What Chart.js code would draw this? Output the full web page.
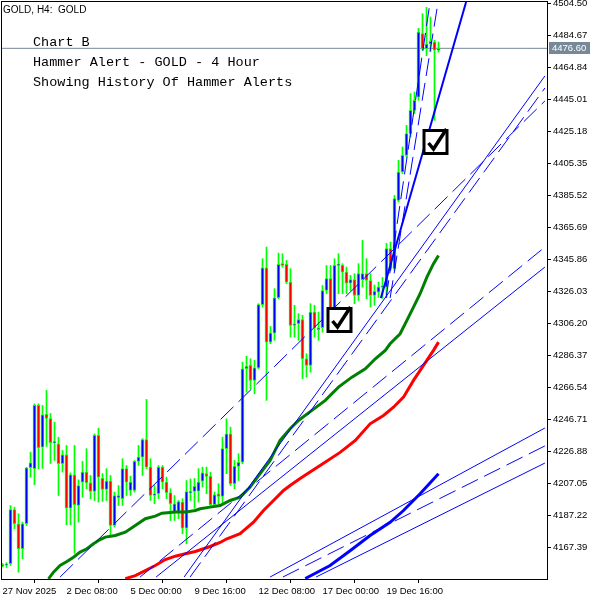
<!DOCTYPE html>
<html>
<head>
<meta charset="utf-8">
<style>
  html, body { margin: 0; padding: 0; background: #fff; }
</style>
<script src="https://cdn.jsdelivr.net/npm/chart.js@4.4.1/dist/chart.umd.min.js"></script>
</head>
<body>
<canvas id="goldChart" width="600" height="600"></canvas>
<script>
// H4 candles, bar index 0..109
const open = [4156.5,4156.4,4157.3,4190.8,4182.1,4166.6,4182.1,4216.8,4216.2,4255.4,
  4229.5,4249.8,4247.2,4232.3,4231.6,4219.3,4224.8,4191.7,4212.4,4193.4,
  4207.9,4214.1,4207.5,4202.1,4236.8,4210.3,4203.3,4208.5,4181.0,4198.2,
  4197.6,4216.2,4202.7,4202.7,4220.7,4223.4,4234.3,4217.2,4199.6,4200.7,
  4217.2,4207.9,4201.3,4189.3,4189.3,4195.5,4179.4,4201.3,4202.1,4202.3,
  4208.5,4213.1,4211.4,4193.9,4200.7,4199.0,4228.6,4237.8,4206.9,4217.6,
  4220.2,4278.1,4280.2,4270.9,4278.7,4317.8,4340.7,4294.6,4300.2,4322.1,
  4343.2,4342.8,4331.8,4305.0,4306.0,4308.5,4284.3,4280.2,4313.2,4302.3,
  4303.5,4326.6,4333.9,4313.2,4342.1,4342.1,4338.0,4331.2,4333.3,4323.5,
  4333.3,4337.0,4332.8,4323.5,4325.6,4328.7,4328.7,4352.5,4340.1,4382.4,
  4400.0,4410.3,4423.8,4438.2,4446.4,4485.7,4476.4,4479.3,4480.4,4475.4];
const high = [4157.5,4158.0,4193.4,4192.4,4188.3,4183.1,4217.0,4226.4,4256.4,4256.4,
  4255.4,4264.7,4250.4,4245.0,4235.7,4227.5,4230.6,4213.6,4230.6,4209.3,
  4220.7,4228.6,4212.0,4237.8,4241.3,4213.1,4216.2,4212.0,4201.7,4205.8,
  4222.4,4218.2,4211.6,4221.3,4230.6,4234.8,4259.1,4222.4,4205.8,4218.2,
  4218.2,4211.0,4203.8,4199.6,4196.5,4197.6,4208.9,4209.9,4210.1,4216.2,
  4217.2,4217.2,4214.1,4201.7,4206.9,4235.7,4247.1,4241.9,4221.3,4225.5,
  4282.2,4285.8,4284.3,4283.3,4318.4,4346.3,4353.5,4304.3,4327.7,4349.8,
  4349.4,4345.2,4340.1,4317.4,4312.2,4311.2,4287.4,4318.4,4317.4,4313.2,
  4329.7,4342.1,4342.1,4346.3,4349.4,4343.2,4341.1,4336.0,4337.0,4343.2,
  4357.6,4346.3,4337.0,4330.0,4331.8,4334.7,4355.8,4356.6,4385.5,4407.2,
  4415.5,4428.9,4448.5,4449.5,4489.0,4498.1,4502.0,4496.0,4481.6,4480.5];
const low = [4155.5,4155.0,4156.2,4179.0,4152.1,4160.4,4181.0,4211.0,4206.2,4216.2,
  4216.4,4230.0,4219.4,4221.3,4199.6,4214.1,4181.5,4181.5,4163.7,4183.1,
  4198.6,4203.8,4197.6,4196.5,4195.5,4195.9,4196.5,4174.8,4180.0,4193.4,
  4193.4,4199.6,4199.6,4201.7,4218.2,4212.0,4216.2,4196.5,4194.5,4197.6,
  4203.8,4197.6,4184.1,4184.1,4185.2,4175.9,4169.7,4196.5,4191.6,4195.5,
  4204.8,4200.7,4192.4,4192.4,4194.5,4194.5,4213.1,4205.8,4203.8,4208.9,
  4219.3,4263.6,4265.7,4262.6,4278.1,4316.3,4258.5,4293.6,4295.7,4321.5,
  4341.1,4330.8,4297.7,4297.7,4295.7,4271.9,4272.9,4276.0,4297.7,4295.7,
  4300.8,4324.6,4306.0,4310.1,4324.6,4324.6,4324.6,4326.6,4318.4,4320.4,
  4328.7,4321.5,4316.3,4317.4,4322.3,4321.7,4322.3,4339.0,4339.0,4381.4,
  4399.0,4409.3,4421.7,4436.2,4444.4,4475.4,4472.0,4474.4,4432.0,4474.2];
const close = [4156.2,4156.9,4190.8,4182.1,4166.6,4182.1,4216.8,4219.9,4255.4,4229.2,
  4249.6,4247.3,4232.3,4232.5,4219.3,4224.8,4191.7,4212.4,4193.9,4205.8,
  4214.1,4207.5,4202.1,4236.8,4211.0,4203.3,4208.5,4181.0,4199.6,4199.6,
  4216.2,4207.9,4207.9,4220.7,4223.4,4234.3,4217.2,4199.6,4200.7,4217.2,
  4207.9,4201.3,4194.5,4194.5,4195.9,4179.4,4202.1,4202.1,4205.2,4207.9,
  4213.7,4211.4,4193.9,4200.0,4199.0,4228.6,4237.8,4206.9,4217.6,4220.2,
  4278.1,4279.6,4270.9,4278.7,4317.8,4340.7,4294.6,4300.2,4322.1,4342.8,
  4342.1,4331.8,4305.0,4306.0,4308.5,4284.3,4280.2,4313.2,4303.5,4303.5,
  4326.6,4333.9,4313.2,4342.1,4342.8,4338.0,4331.2,4333.3,4323.5,4337.0,
  4337.0,4332.8,4323.5,4326.0,4328.7,4329.4,4352.5,4340.1,4383.5,4400.0,
  4410.3,4423.8,4438.2,4444.4,4486.7,4476.4,4479.3,4481.0,4475.4,4476.6];

// moving averages, read at a handful of bars
const greenMaBars = [11.5,12.75,14.4,16.1,17.75,19.4,21.1,22.75,24.4,25.7,28.2,30.7,33.2,35.7,38.2,39.85,43.2,45.7,48.2,49.4,51.9,54.4,56.9,59.4,61.9,64.4,66.9,69.4,71.9,74,77.35,80.7,84,87.35,90.7,93.2,95.7,96.9,99.4,101.1,102.75,104.4,106.1,107.75,109];
const greenMaValues = [4148.0,4152.1,4156.2,4158.7,4161.4,4164.5,4166.6,4169.7,4172.3,4173.8,4174.8,4176.9,4181.0,4185.2,4186.8,4188.6,4189.3,4189.3,4190.3,4191.4,4192.4,4193.4,4196.5,4198.6,4204.8,4213.1,4221.3,4233.7,4241.0,4246.1,4252.3,4258.5,4266.7,4272.9,4278.1,4284.3,4289.5,4293.6,4299.8,4308.1,4316.3,4324.6,4334.9,4343.2,4348.3];
const redMaBars = [30.7,33.2,35.7,38.2,40.7,43.2,45.7,48.2,51.9,54.4,56.1,59.4,62.75,65.25,67.75,70.25,71.9,74.4,79.4,84.4,88.2,91.9,95.25,97.75,100.25,102.75,105.25,107.75,109];
const redMaValues = [4148.0,4150.0,4153.1,4156.2,4159.9,4162.0,4163.5,4164.9,4168.0,4170.5,4172.8,4175.9,4183.1,4190.3,4196.5,4202.7,4205.8,4210.1,4218.2,4226.3,4233.7,4244.0,4249.2,4254.3,4260.5,4270.9,4280.2,4289.5,4294.6];
const blueMaBars = [75.7,81.9,86.9,91.9,96.9,100.25,104.4,109];
const blueMaValues = [4148.2,4156.2,4165.4,4174.8,4183.0,4190.3,4200.7,4213.1];

// trend lines: from (bar, price) to (bar, price)
const trendFromBar   = [14.4, 45.4, 46.9, 34.4, 38.4, 66.9, 70.1, 78.4, 94.6, 95.9, 96.9];
const trendFromPrice = [4149.1,4149.1,4149.1,4149.1,4149.1,4149.1,4149.1,4149.1,4321.9,4321.9,4321.9];
const trendToBar     = [135.6,135.6,135.6,135.6,135.6,135.6,135.6,135.6,115.9,106.9,108.9];
const trendToPrice   = [4444.0,4459.5,4452.0,4353.5,4341.1,4241.4,4230.3,4219.7,4505.3,4505.3,4505.3];
const trendDashed    = [true, false, true, true, false, false, true, false, false, true, true];
const trendWidth     = [1,1,1,1,1,1,1,1,2,1,1];

const alertBars = [84, 108];
const alertPrices = [4308.3, 4418.8];

const lastPrice = 4476.60;
const priceTicks = [4504.50,4484.67,4464.84,4445.01,4425.18,4405.35,4385.52,4365.69,4345.86,4326.03,4306.20,4286.37,4266.54,4246.71,4226.88,4207.05,4187.22,4167.39];
const tickBars = [0, 16, 32, 48, 64, 80, 96];
const tickLabels = ['27 Nov 2025','2 Dec 08:00','5 Dec 00:00','9 Dec 16:00','12 Dec 08:00','17 Dec 00:00','19 Dec 16:00'];

const notes = ['Chart B', 'Hammer Alert - GOLD - 4 Hour', 'Showing History Of Hammer Alerts'];

const bars = open.map((o, i) => i);
const axisFont = { family: '"Liberation Sans", Arial, sans-serif', size: 9.5 };

const datasets = [];

// MAs
const maStyle = (data, color) => ({
  type: 'line', data, borderColor: color, borderWidth: 3,
  pointRadius: 0, tension: 0, fill: false, order: 3
});
datasets.push(maStyle(greenMaBars.map((b, i) => ({x: b, y: greenMaValues[i]})), '#008000'));
datasets.push(maStyle(redMaBars.map((b, i) => ({x: b, y: redMaValues[i]})), '#ff0000'));
datasets.push(maStyle(blueMaBars.map((b, i) => ({x: b, y: blueMaValues[i]})), '#0000ff'));

// trend lines
trendFromBar.forEach((b, i) => {
  datasets.push({
    type: 'line',
    data: [{x: b, y: trendFromPrice[i]}, {x: trendToBar[i], y: trendToPrice[i]}],
    borderColor: '#0000ff',
    borderWidth: trendWidth[i],
    borderDash: trendDashed[i] ? [18, 7] : [],
    pointRadius: 0, tension: 0, fill: false, order: 2
  });
});

// current price line
datasets.push({
  type: 'line',
  data: [{x: -1, y: lastPrice}, {x: 140, y: lastPrice}],
  borderColor: '#778899', borderWidth: 1, pointRadius: 0, order: 12
});

// wicks
datasets.push({
  type: 'bar',
  data: bars.map(i => ({x: i, y: [low[i], high[i]]})),
  backgroundColor: '#00ff00',
  borderWidth: 0,
  barThickness: 1,
  grouped: false,
  order: 11
});
// bodies
datasets.push({
  type: 'bar',
  data: bars.map(i => ({x: i, y: [open[i], close[i]]})),
  backgroundColor: bars.map(i => close[i] >= open[i] ? '#0000ff' : '#ff0000'),
  borderColor: '#00ff00',
  borderWidth: 1,
  borderSkipped: false,
  barThickness: 3,
  minBarLength: 1,
  grouped: false,
  order: 10
});

function drawCheckBox(ctx, cx, cy) {
  ctx.save();
  ctx.fillStyle = '#fff';
  ctx.fillRect(cx - 12, cy - 12, 24, 24);
  ctx.strokeStyle = '#000';
  ctx.lineWidth = 3;
  ctx.strokeRect(cx - 11.5, cy - 11.5, 23, 23);
  ctx.beginPath();
  ctx.moveTo(cx - 7, cy + 1);
  ctx.lineTo(cx - 2, cy + 7);
  ctx.lineTo(cx + 11, cy - 13);
  ctx.lineWidth = 3.5;
  ctx.lineJoin = 'miter';
  ctx.stroke();
  ctx.restore();
}

const mtOverlay = {
  id: 'mtOverlay',
  afterDatasetsDraw(chart) {
    const {ctx, scales: {x, y}} = chart;
    alertBars.forEach((b, i) => {
      drawCheckBox(ctx, Math.round(x.getPixelForValue(b)) + 0.5, Math.round(y.getPixelForValue(alertPrices[i])));
    });
  },
  afterDraw(chart) {
    const {ctx, chartArea: a, scales: {y}} = chart;
    ctx.save();
    ctx.strokeStyle = '#000';
    ctx.lineWidth = 1;
    ctx.strokeRect(a.left + 0.5, a.top + 0.5, a.right - a.left, a.bottom - a.top);

    ctx.fillStyle = '#000';
    ctx.font = '10px "Liberation Sans", Arial, sans-serif';
    ctx.textBaseline = 'alphabetic';
    ctx.fillText('GOLD, H4:  GOLD', 3, 13);

    ctx.font = '13.5px "Liberation Mono", "Courier New", monospace';
    notes.forEach((t, i) => ctx.fillText(t, 33, 46 + i * 20));

    const py = Math.round(y.getPixelForValue(lastPrice));
    ctx.fillStyle = '#778899';
    ctx.fillRect(549, py - 6, 41, 12);
    ctx.fillStyle = '#fff';
    ctx.font = '9.5px "Liberation Sans", Arial, sans-serif';
    ctx.textBaseline = 'middle';
    ctx.fillText(lastPrice.toFixed(2), 552, py);
    ctx.restore();
  }
};

new Chart(document.getElementById('goldChart'), {
  type: 'bar',
  data: { datasets },
  plugins: [mtOverlay],
  options: {
    responsive: false,
    animation: false,
    devicePixelRatio: 1,
    layout: { padding: { left: 1, top: 1, right: 0, bottom: 0 } },
    plugins: { legend: { display: false }, tooltip: { enabled: false } },
    scales: {
      x: {
        type: 'linear',
        min: -0.375,
        max: 136.125,
        offset: false,
        afterFit: s => { s.height = 21; s.paddingLeft = 0; s.paddingRight = 0; },
        afterBuildTicks: s => { s.ticks = tickBars.map(v => ({ value: v })); },
        border: { display: false },
        grid: { drawOnChartArea: false, drawTicks: true, tickLength: 4, color: '#000' },
        ticks: {
          autoSkip: false, maxRotation: 0, align: 'start', padding: 3,
          color: '#000', font: axisFont,
          callback: (v, i) => tickLabels[i]
        }
      },
      y: {
        type: 'linear',
        position: 'right',
        min: 4147.87,
        max: 4505.92,
        afterFit: s => { s.width = 53; s.paddingTop = 0; s.paddingBottom = 0; },
        afterBuildTicks: s => { s.ticks = priceTicks.map(v => ({ value: v })); },
        border: { display: false },
        grid: { drawOnChartArea: false, drawTicks: true, tickLength: 4, color: '#000' },
        ticks: {
          autoSkip: false, padding: 2,
          color: '#000', font: axisFont,
          callback: v => Number(v).toFixed(2)
        }
      }
    }
  }
});
</script>
</body>
</html>
